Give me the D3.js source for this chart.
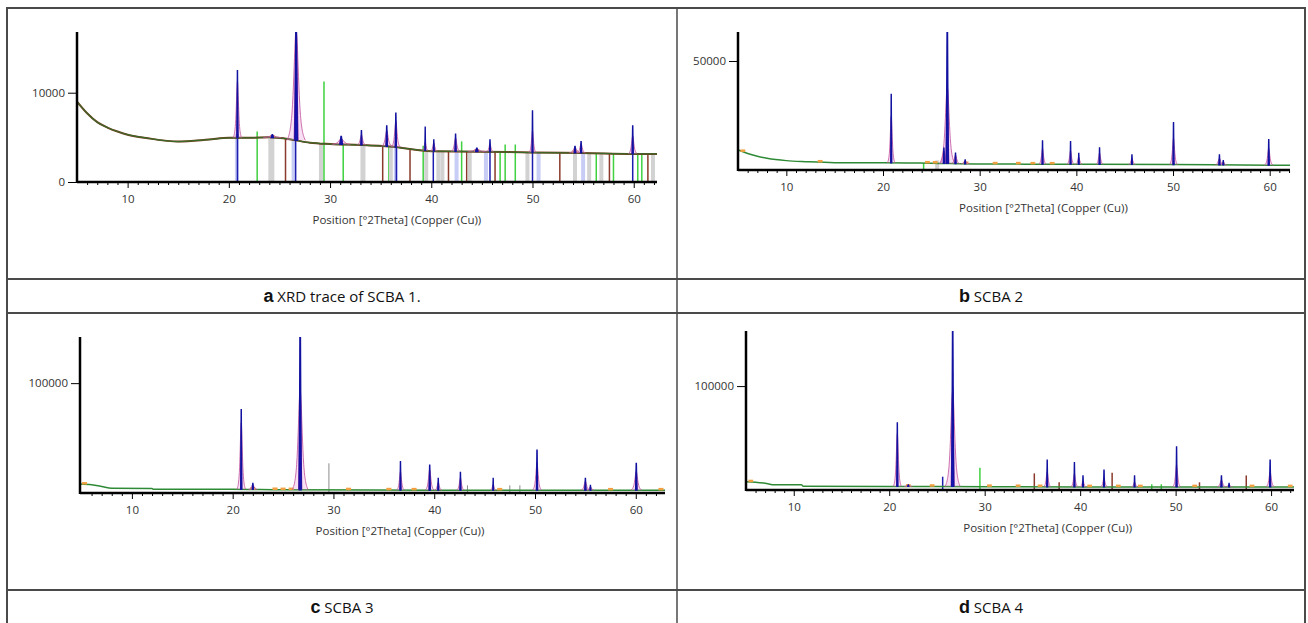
<!DOCTYPE html>
<html>
<head>
<meta charset="utf-8">
<script src="https://cdn.jsdelivr.net/npm/d3@7"></script>
<style>
  body { margin: 0; background: #fff; }
  svg { display: block; }
  .tick text { font-family: "Open Sans", sans-serif; fill: #333; }
</style>
</head>
<body>
<div id="chart"></div>
<script>
// x tick labels shared by all four traces
const xTicks = [10, 20, 30, 40, 50, 60];

// ---- panel a : SCBA 1 ----
const bgA = [[5,9000],[6,7700],[7,6700],[8,6100],[9,5650],[10,5300],[12,4900],[15,4530],[18,4750],[20,4950],[22,4950],[24,5000],[26,4800],[28,4400],[30,4250],[33,4150],[36,3970],[40,3450],[45,3400],[50,3300],[55,3250],[60,3150],[62.3,3150]];
// [position, top, purple core height, half width]
const peaksA = [[20.85,12470,11500,0.14],[24.3,5300,5250,0.3],[26.65,18000,17500,0.3],[31.1,5100,4900,0.3],[33.1,5770,5300,0.15],[35.6,6290,5800,0.18],[36.5,7720,6900,0.15],[39.4,6150,4500,0.1],[40.25,4720,4400,0.12],[42.4,5360,5000,0.15],[44.5,3790,3700,0.3],[45.8,4720,4300,0.12],[50.0,7980,5840,0.12],[54.2,4000,3900,0.2],[54.8,4530,4300,0.15],[59.9,6290,5200,0.15]];
// reference sticks [position, height, phase]
const sticksA = [[20.8,5400,"lb"],[20.85,5400,"db"],[22.8,5650,"gr"],[24.1,4900,"gy"],[24.3,4900,"gy"],[25.6,4800,"br"],[26.4,4800,"lb"],[26.6,4800,"db"],[29.1,4250,"gy"],[29.4,11270,"gr"],
  [31.3,4200,"gr"],[33.2,4150,"gy"],[33.3,4150,"gy"],[35.2,4000,"br"],[35.8,4000,"gr"],[36.0,3950,"gy"],[36.5,3950,"lb"],[36.55,3950,"db"],[37.9,3600,"br"],[39.2,4050,"gr"],[39.5,3500,"gy"],[40.2,3500,"db"],[40.7,3450,"gy"],[41.1,3450,"gy"],
  [41.7,3450,"br"],[42.5,3450,"lb"],[43.0,4550,"gr"],[43.5,3450,"br"],[43.8,3450,"gy"],[45.4,3400,"lb"],[45.8,3400,"db"],[46.3,3400,"br"],[46.8,3400,"gr"],[47.3,4200,"gr"],[48.3,4200,"gr"],
  [49.5,3350,"gy"],[50.0,3350,"db"],[50.6,3300,"lb"],[52.7,3300,"br"],[54.2,3250,"gy"],[55.0,3250,"lb"],[55.6,3250,"gy"],[56.3,3250,"gr"],[56.8,3250,"gy"],[57.6,3250,"br"],[58.0,3250,"gr"],
  [59.9,3150,"db"],[60.4,3150,"gr"],[60.8,3150,"gr"],[61.4,3150,"br"],[61.9,3150,"gy"]];
const marksA = [24.3, 44.5, 54.2];

// ---- panel b : SCBA 2 ----
const bgB = [[5,9200],[6,7600],[7,6300],[8,5400],[10,4300],[12,3800],[15,3350],[20,3350],[25,3100],[30,2750],[40,2650],[50,2500],[60,2200],[62.1,2200]];
const peaksB = [[20.85,34700,25200,0.13],[26.3,10000,9000,0.15],[26.65,70000,39700,0.26],[27.5,7800,7000,0.15],[28.5,4600,4400,0.15],[36.5,13400,10000,0.13],[39.4,13000,9000,0.13],[40.25,7600,6000,0.12],[42.4,10200,8000,0.13],[45.75,6900,5500,0.12],[50.05,21700,15000,0.14],[54.8,6900,5500,0.15],[55.2,4300,4000,0.12],[59.9,14000,10000,0.15]];
const sticksB = [[24.2,3100,"gr"],[25.6,4400,"gy"]];
const marksB = [5.5, 13.5, 24.6, 25.4, 28.6, 31.6, 34.0, 35.5, 37.5];

// ---- panel c : SCBA 3 ----
const bgC = [[4.85,8200],[6,7500],[7,6000],[8,4300],[12,4200],[12.1,3400],[20,3400],[25,2900],[40,2600],[62.9,2600]];
const peaksC = [[20.85,76000,66000,0.14],[22.0,8800,8000,0.15],[26.7,160000,96600,0.26],[36.65,28500,20000,0.13],[39.55,25400,22000,0.15],[40.4,13300,10000,0.12],[42.6,18800,14000,0.13],[45.85,13300,8000,0.1],[50.2,39000,28000,0.15],[55.0,13300,11000,0.15],[55.5,7000,6000,0.12],[60.05,27000,20000,0.18]];
const sticksC = [[29.55,27000,"gt"],[43.3,7000,"gt"],[47.5,7000,"gt"],[48.5,7000,"gt"]];
const marksC = [5.3, 22.0, 24.2, 25.0, 25.8, 31.5, 35.5, 38.0, 46.5, 57.5, 62.5];

// ---- panel d : SCBA 4 ----
const bgD = [[5,8000],[6,7500],[7,6500],[8,5000],[10.8,5000],[11,3600],[25,3400],[40,3000],[62.4,3000]];
const peaksD = [[20.85,64700,56000,0.14],[22.0,5000,4800,0.15],[26.65,160000,99300,0.26],[36.55,28800,18000,0.13],[39.4,26300,16000,0.13],[40.3,13500,9000,0.12],[42.5,19200,12000,0.13],[45.7,13500,8000,0.12],[50.1,41600,25000,0.14],[54.8,13500,10000,0.15],[55.6,6400,5500,0.12],[59.9,28800,18000,0.15]];
const sticksD = [[25.6,12800,"db"],[29.5,21400,"gr"],[35.2,16000,"br"],[37.8,7400,"br"],[43.35,16700,"br"],[47.5,5500,"gr"],[48.5,5500,"gr"],[52.5,7400,"br"],[57.4,14000,"br"]];
const marksD = [5.5, 22.0, 24.5, 30.5, 33.5, 35.8, 41.0, 44.0, 46.3, 52.0, 58.0, 62.0];

const stickStyle = {
  lb: {color: "#c8cdf5", w: 4},
  gy: {color: "#d2d2d2", w: 4},
  gt: {color: "#8c8c8c", w: 1},
  gr: {color: "#3fd13f", w: 1.5},
  br: {color: "#8a3a2a", w: 1.5},
  db: {color: "#1d1db0", w: 1.5}
};

const W = 1308, H = 623;
const svg = d3.select("#chart").append("svg").attr("width", W).attr("height", H);

// table grid
const gridColor = "#4a4a4a";
const tx0 = 7, tx1 = 1305, txm = 677, ty0 = 8, ty1 = 279, ty2 = 313, ty3 = 590, ty4 = 624;
svg.append("rect").attr("x", tx0).attr("y", ty0).attr("width", tx1 - tx0).attr("height", ty4 - ty0)
  .attr("fill", "none").attr("stroke", gridColor).attr("stroke-width", 2);
[ty1, ty2, ty3].forEach(y => svg.append("line").attr("x1", tx0).attr("x2", tx1).attr("y1", y).attr("y2", y)
  .attr("stroke", gridColor).attr("stroke-width", 2));
svg.append("line").attr("x1", txm).attr("x2", txm).attr("y1", ty0).attr("y2", ty4).attr("stroke", gridColor).attr("stroke-width", 1.5);

const panels = [
  {id: "a", left: 77, right: 657, base: 182, top: 32, xDom: [5, 62.3], yMax: 16800, yTicks: [0, 10000], bg: bgA, peaks: peaksA, sticks: sticksA, marks: marksA, dark: true,
   cap: [(tx0 + txm) / 2, (ty1 + ty2) / 2], label: "a", text: "XRD trace of SCBA 1."},
  {id: "b", left: 738, right: 1290, base: 170, top: 32, xDom: [5, 62.1], yMax: 63300, yTicks: [50000], bg: bgB, peaks: peaksB, sticks: sticksB, marks: marksB,
   cap: [(txm + tx1) / 2, (ty1 + ty2) / 2], label: "b", text: "SCBA 2"},
  {id: "c", left: 80, right: 665, base: 493, top: 337, xDom: [4.85, 62.9], yMax: 142000, yTicks: [100000], bg: bgC, peaks: peaksC, sticks: sticksC, marks: marksC,
   cap: [(tx0 + txm) / 2, (ty3 + ty4) / 2], label: "c", text: "SCBA 3"},
  {id: "d", left: 746, right: 1294, base: 490, top: 331, xDom: [5, 62.4], yMax: 153000, yTicks: [100000], bg: bgD, peaks: peaksD, sticks: sticksD, marks: marksD,
   cap: [(txm + tx1) / 2, (ty3 + ty4) / 2], label: "d", text: "SCBA 4"}
];

panels.forEach(p => {
  const x = d3.scaleLinear().domain(p.xDom).range([p.left, p.right]);
  const y = d3.scaleLinear().domain([0, p.yMax]).range([p.base, p.top]);
  // background level as a piecewise linear scale over the read points
  const bgAt = d3.scaleLinear().domain(p.bg.map(d => d[0])).range(p.bg.map(d => d[1])).clamp(true);

  const g = svg.append("g");
  g.append("clipPath").attr("id", "clip-" + p.id).append("rect")
    .attr("x", p.left).attr("y", p.top).attr("width", p.right - p.left).attr("height", p.base - p.top);
  const plot = g.append("g").attr("clip-path", `url(#clip-${p.id})`);

  // reference sticks
  plot.selectAll(".stick").data(p.sticks).join("line")
    .attr("x1", d => x(d[0])).attr("x2", d => x(d[0]))
    .attr("y1", y(0)).attr("y2", d => y(d[1]))
    .attr("stroke", d => stickStyle[d[2]].color)
    .attr("stroke-width", d => stickStyle[d[2]].w);

  // background trace
  const line = d3.line().x(d => x(d[0])).y(d => y(d[1])).curve(d3.curveMonotoneX);
  if (p.dark) {
    plot.append("path").datum(p.bg).attr("d", line).attr("fill", "none").attr("stroke", "#7a3a1c").attr("stroke-width", 2);
  }
  plot.append("path").datum(p.bg).attr("d", line).attr("fill", "none")
    .attr("stroke", p.dark ? "#3a6a2a" : "#2f8a36").attr("stroke-width", p.dark ? 1.2 : 1.5);

  // small orange marks sitting on the trace
  plot.selectAll(".mark").data(p.marks).join("line")
    .attr("x1", d => x(d - 0.25)).attr("x2", d => x(d + 0.25))
    .attr("y1", d => y(bgAt(d)) - 1).attr("y2", d => y(bgAt(d)) - 1)
    .attr("stroke", "#f0a040").attr("stroke-width", 2.5);

  // fitted profile (pink skirt)
  const skirt = d3.line().x(d => x(d[0])).y(d => y(d[1])).curve(d3.curveBasis);
  plot.selectAll(".skirt").data(p.peaks).join("path")
    .attr("d", d => {
      const b = bgAt(d[0]);
      return skirt([[d[0] - d[3] * 3, b], [d[0] - d[3] * 1.2, b + (d[2] - b) * 0.12], [d[0] - d[3] * 0.3, d[2]],
                    [d[0] + d[3] * 0.3, d[2]], [d[0] + d[3] * 1.2, b + (d[2] - b) * 0.12], [d[0] + d[3] * 3, b]]);
    })
    .attr("fill", "rgba(230,150,220,0.3)").attr("stroke", "#c0509a").attr("stroke-width", 0.8);

  // purple core
  plot.selectAll(".core").data(p.peaks).join("path")
    .attr("d", d => {
      const b = bgAt(d[0]);
      return `M${x(d[0] - d[3] * 0.8)},${y(b)}L${x(d[0] - d[3] * 0.25)},${y(d[2])}L${x(d[0] + d[3] * 0.25)},${y(d[2])}L${x(d[0] + d[3] * 0.8)},${y(b)}Z`;
    })
    .attr("fill", "#7a1fa2");

  // blue spike
  plot.selectAll(".spike").data(p.peaks).join("path")
    .attr("d", d => {
      const b = bgAt(d[0]);
      return `M${x(d[0] - d[3] * 0.4)},${y(b)}L${x(d[0] - d[3] * 0.1)},${y(d[1])}L${x(d[0] + d[3] * 0.1)},${y(d[1])}L${x(d[0] + d[3] * 0.4)},${y(b)}Z`;
    })
    .attr("fill", "#1717b8").attr("stroke", "#1212a0").attr("stroke-width", 1.2);

  // x axis: major ticks + minor ticks
  const xAxis = g.append("g").attr("transform", `translate(0,${p.base})`)
    .call(d3.axisBottom(x).tickValues(xTicks).tickSize(6).tickFormat(d3.format("d")));
  xAxis.select(".domain").remove();
  xAxis.selectAll("text").attr("font-size", 11.5).attr("dy", "1.05em");
  g.append("g").attr("transform", `translate(0,${p.base})`)
    .call(d3.axisBottom(x).tickValues(d3.range(6, Math.floor(p.xDom[1]) + 1).filter(v => v % 10)).tickSize(3).tickFormat(""))
    .select(".domain").remove();
  g.append("line").attr("x1", p.left).attr("x2", p.right).attr("y1", p.base).attr("y2", p.base)
    .attr("stroke", "#000").attr("stroke-width", 2.5);

  // y axis
  const yAxis = g.append("g").attr("transform", `translate(${p.left},0)`)
    .call(d3.axisLeft(y).tickValues(p.yTicks).tickSize(9).tickFormat(d3.format("d")));
  yAxis.select(".domain").remove();
  yAxis.selectAll("text").attr("font-size", 11.5);
  g.append("line").attr("x1", p.left).attr("x2", p.left).attr("y1", p.top).attr("y2", p.base + 1)
    .attr("stroke", "#000").attr("stroke-width", 2.5);

  // axis title
  g.append("text").attr("x", x(36.6)).attr("y", p.base + 42).attr("text-anchor", "middle")
    .attr("font-family", "'Open Sans', sans-serif").attr("font-size", 11.5).attr("fill", "#333")
    .text("Position [°2Theta] (Copper (Cu))");

  // caption
  const cap = svg.append("text").attr("x", p.cap[0]).attr("y", p.cap[1] + 6).attr("text-anchor", "middle");
  cap.append("tspan").attr("font-family", "'Liberation Sans', Arial, sans-serif").attr("font-weight", "bold")
    .attr("font-size", 18).attr("fill", "#111").text(p.label);
  cap.append("tspan").attr("font-family", "'Open Sans', sans-serif").attr("font-size", 15).attr("fill", "#111")
    .text(" " + p.text);
});
</script>
</body>
</html>
